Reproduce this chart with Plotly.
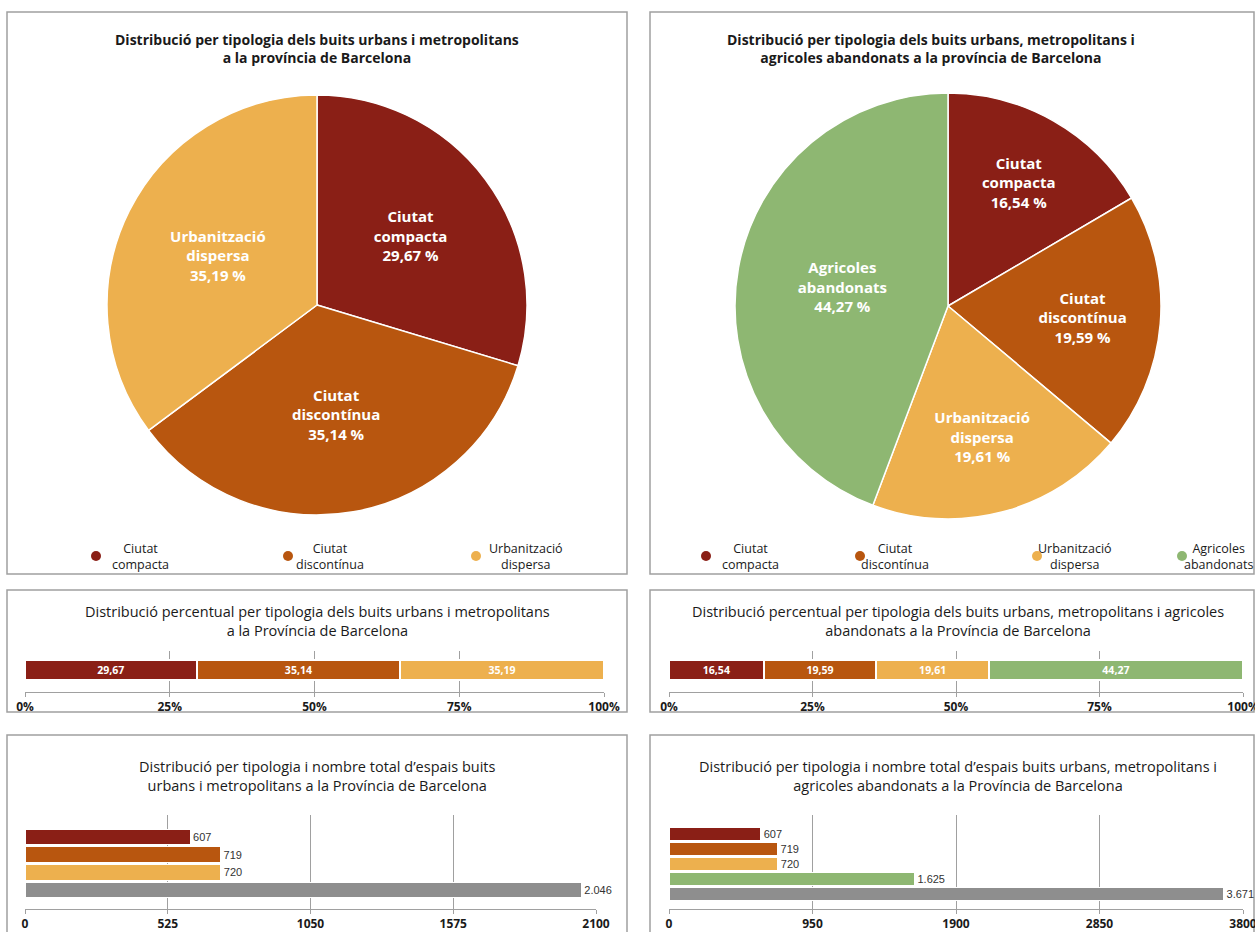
import plotly.graph_objects as go

# ─── DADES ───────────────────────────────────────────────────
CAT_URB = ["Ciutat compacta", "Ciutat discontínua", "Urbanització dispersa"]
CAT_TOT = CAT_URB + ["Agricoles abandonats"]
PIE_LABELS_URB = ["Ciutat<br>compacta", "Ciutat<br>discontínua", "Urbanització<br>dispersa"]
PIE_LABELS_TOT = PIE_LABELS_URB + ["Agricoles<br>abandonats"]

PCT_URB = [29.67, 35.14, 35.19]
PCT_TOT = [16.54, 19.59, 19.61, 44.27]

COUNT_CAT_URB = CAT_URB + ["Total"]
COUNT_CAT_TOT = CAT_TOT + ["Total"]
COUNT_URB = [607, 719, 720, 2046]
COUNT_TOT = [607, 719, 720, 1625, 3671]

TICKS_PCT = [0, 25, 50, 75, 100]
TICKS_URB = [0, 525, 1050, 1575, 2100]
TICKS_TOT = [0, 950, 1900, 2850, 3800]

# ─── PALETA ──────────────────────────────────────────────────
COR_COMPACTA = "#8A1F16"
COR_DISCONTINUA = "#B8560F"
COR_DISPERSA = "#EDB04E"
COR_AGRICOLA = "#8EB772"
COR_TOTAL = "#8E8E8E"
COR_TEXT = "#1A1A1A"
COR_VORA = "#A0A0A0"
FONT = "Open Sans"

CORS_URB = [COR_COMPACTA, COR_DISCONTINUA, COR_DISPERSA]
CORS_TOT = CORS_URB + [COR_AGRICOLA]

W, H = 1255, 932


def px_x(x):
    return x / W


def px_y(y):
    return 1 - y / H


fig = go.Figure()

# ─── PASTISSOS ───────────────────────────────────────────────
for labels, vals, cors, dom in [
    (PIE_LABELS_URB, PCT_URB, CORS_URB, (107, 527, 95, 515)),
    (PIE_LABELS_TOT, PCT_TOT, CORS_TOT, (735, 1161, 93, 519)),
]:
    fig.add_trace(go.Pie(
        labels=labels,
        values=vals,
        sort=False,
        direction="clockwise",
        rotation=0,
        marker=dict(colors=cors, line=dict(color="white", width=1.5)),
        texttemplate="<b>%{label}<br>%{value:.2f} %</b>",
        textposition="inside",
        insidetextorientation="horizontal",
        textfont=dict(family=FONT, size=15, color="white"),
        domain=dict(x=[px_x(dom[0]), px_x(dom[1])], y=[px_y(dom[3]), px_y(dom[2])]),
        showlegend=False,
    ))

# ─── BARRES PERCENTUALS ──────────────────────────────────────
for cats, vals, cors, xa, ya in [
    (CAT_URB, PCT_URB, CORS_URB, "x", "y"),
    (CAT_TOT, PCT_TOT, CORS_TOT, "x3", "y3"),
]:
    for cat, val, cor in zip(cats, vals, cors):
        fig.add_trace(go.Bar(
            x=[val], y=[""], name=cat, orientation="h",
            xaxis=xa, yaxis=ya, width=0.49,
            marker=dict(color=cor, line=dict(color="white", width=2)),
            texttemplate="<b>%{x:.2f}</b>",
            textposition="inside", insidetextanchor="middle",
            textfont=dict(family=FONT, size=13.5, color="white"),
            showlegend=False,
        ))

# ─── BARRES DE RECOMPTE ──────────────────────────────────────
for cats, vals, cors, xa, ya, w in [
    (COUNT_CAT_URB, COUNT_URB, CORS_URB + [COR_TOTAL], "x2", "y2", 0.88),
    (COUNT_CAT_TOT, COUNT_TOT, CORS_TOT + [COR_TOTAL], "x4", "y4", 0.84),
]:
    fig.add_trace(go.Bar(
        x=vals, y=cats, orientation="h",
        xaxis=xa, yaxis=ya, width=w,
        marker=dict(color=cors, line=dict(color="white", width=1)),
        texttemplate="%{x:,.0f}",
        textposition="outside",
        textfont=dict(family="Liberation Sans", size=11, color="#333333"),
        cliponaxis=False,
        showlegend=False,
    ))

# ─── EIXOS ───────────────────────────────────────────────────
def eix_x(x0, x1, anchor, rng, ticks, suffix=""):
    return dict(
        domain=[px_x(x0), px_x(x1)], anchor=anchor, range=rng,
        tickvals=ticks, ticktext=[f"{t}{suffix}" for t in ticks],
        showgrid=True, gridcolor=COR_VORA, gridwidth=1,
        showline=True, linecolor=COR_VORA, linewidth=1,
        ticks="outside", ticklen=4, tickcolor=COR_VORA,
        zeroline=False, fixedrange=True, automargin=False,
        ticklabeloverflow="allow",
        tickfont=dict(family=FONT, size=12, color=COR_TEXT, weight="bold"),
    )


def eix_y(y0, y1, anchor, rng):
    return dict(
        domain=[px_y(y1), px_y(y0)], anchor=anchor, range=rng,
        showticklabels=False, showgrid=False, zeroline=False,
        showline=False, ticks="", fixedrange=True, automargin=False,
    )


fig.update_layout(
    xaxis=eix_x(25, 604, "y", [0, 100], TICKS_PCT, "%"),
    yaxis=eix_y(651, 692, "x", [-0.537, 0.463]),
    xaxis2=eix_x(25, 596, "y2", [0, 2100], TICKS_URB),
    yaxis2=eix_y(815, 909, "x2", [3 + 1.07, -1.24]),
    xaxis3=eix_x(669, 1243, "y3", [0, 100], TICKS_PCT, "%"),
    yaxis3=eix_y(651, 692, "x3", [-0.537, 0.463]),
    xaxis4=eix_x(669, 1243, "y4", [0, 3800], TICKS_TOT),
    yaxis4=eix_y(815, 909, "x4", [4 + 1.0, -1.27]),
)

# ─── MARCS, TÍTOLS I LLEGENDES ───────────────────────────────
shapes = []
for x0, x1, y0, y1 in [
    (7, 627, 12, 574), (7, 627, 590, 712), (7, 627, 735, 950),
    (650, 1254, 12, 574), (650, 1254, 590, 712), (650, 1254, 735, 950),
]:
    shapes.append(dict(
        type="rect", xref="paper", yref="paper",
        x0=px_x(x0), x1=px_x(x1), y0=px_y(y1), y1=px_y(y0),
        line=dict(color=COR_VORA, width=1.5), fillcolor="rgba(0,0,0,0)", layer="below",
    ))

annotations = []


def titol(text, x, y, bold=False, size=13):
    annotations.append(dict(
        text=f"<b>{text}</b>" if bold else text,
        x=px_x(x), y=px_y(y), xref="paper", yref="paper",
        xanchor="center", yanchor="middle", showarrow=False,
        font=dict(family=FONT, size=size, color=COR_TEXT),
    ))


titol("Distribució per tipologia dels buits urbans i metropolitans<br>a la província de Barcelona",
      317, 48, bold=True, size=14)
titol("Distribució per tipologia dels buits urbans, metropolitans i<br>agricoles abandonats a la província de Barcelona",
      931, 48, bold=True, size=14)
titol("Distribució percentual per tipologia dels buits urbans i metropolitans<br>a la Província de Barcelona",
      317, 621, size=14.5)
titol("Distribució percentual per tipologia dels buits urbans, metropolitans i agricoles<br>abandonats a la Província de Barcelona",
      958, 621, size=14.5)
titol("Distribució per tipologia i nombre total d’espais buits<br>urbans i metropolitans a la Província de Barcelona",
      317, 776, size=14.5)
titol("Distribució per tipologia i nombre total d’espais buits urbans, metropolitans i<br>agricoles abandonats a la Província de Barcelona",
      958, 776, size=14.5)

# llegendes dels pastissos
for labels, cors, dots, centres in [
    (PIE_LABELS_URB, CORS_URB, [96, 288, 476], [140, 330, 526]),
    (PIE_LABELS_TOT, CORS_TOT, [706, 860, 1037, 1182], [750, 895, 1075, 1218]),
]:
    for lab, cor, xd, xc in zip(labels, cors, dots, centres):
        shapes.append(dict(
            type="circle", xref="paper", yref="paper",
            x0=px_x(xd - 5), x1=px_x(xd + 5), y0=px_y(561), y1=px_y(551),
            fillcolor=cor, line=dict(width=0),
        ))
        annotations.append(dict(
            text=lab, x=px_x(xc), y=px_y(556), xref="paper", yref="paper",
            xanchor="center", yanchor="middle", showarrow=False,
            font=dict(family=FONT, size=12.5, color=COR_TEXT),
        ))

fig.update_layout(
    width=W, height=H,
    margin=dict(l=0, r=0, t=0, b=0, pad=0, autoexpand=False),
    paper_bgcolor="white", plot_bgcolor="white",
    font=dict(family=FONT, color=COR_TEXT, size=12),
    separators=",.",
    barmode="stack",
    shapes=shapes,
    annotations=annotations,
    showlegend=False,
)

fig.write_html(
    "out.html",
    config={"displayModeBar": False},
    post_script="document.body.style.margin='0';document.body.style.overflow='hidden';",
)
